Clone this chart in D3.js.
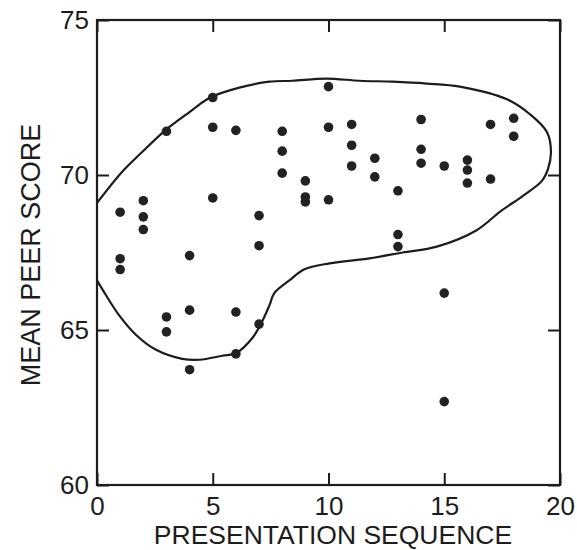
<!DOCTYPE html>
<html>
<head>
<meta charset="utf-8">
<script src="https://cdn.jsdelivr.net/npm/d3@7"></script>
<style>
  body { margin:0; background:#fff; }
  text { font-family: "Liberation Sans", Arial, sans-serif; fill:#1c1c1c; }
</style>
</head>
<body>
<div id="chart"></div>
<script>
// presentation order and mean peer scores
var seq = [1,1,1, 2,2,2, 3,3,3, 4,4,4, 5,5,5, 6,6,6, 7,7,7, 8,8,8, 9,9,9,
           10,10,10, 11,11,11, 12,12, 13,13,13, 14,14,14, 15,15,15, 16,16,16, 17,17, 18,18]
var score = [68.8,67.3,66.95, 69.17,68.65,68.24, 71.41,65.42,64.94, 67.40,65.64,63.72,
             72.5,71.54,69.26, 71.44,65.58,64.23, 68.69,67.72,65.19, 71.41,70.77,70.06,
             69.81,69.29,69.13, 72.85,71.54,69.2, 71.63,70.96,70.29, 70.54,69.94,
             69.49,68.08,67.69, 71.79,70.83,70.38, 70.29,66.19,62.69, 70.48,70.16,69.74,
             71.63,69.87, 71.83,71.25]

// hand drawn envelope round the cluster (data units)
var envX = [0,1.08,1.95,2.9,3.98,4.89,6.15,7.45,8.44,9.91,11.34,12.77,14.24,15.67,17.71,18.7,19.44,19.61,19.48,19.22,
            18.4,17.4,16.4,14.68,13.2,11.77,10.04,8.96,8.31,7.66,7.45,7.14,6.71,6.02,5.41,4.42,3.68,2.55,1.69,0.95,0.39,0]
var envY = [69.1,70.1,70.74,71.41,72.02,72.5,72.82,73.01,73.04,73.11,73.04,73.01,72.95,72.85,72.44,71.96,71.38,70.74,70.19,69.81,
            69.33,68.81,68.22,67.69,67.5,67.31,67.15,66.96,66.6,66.19,65.8,65.29,64.74,64.26,64.17,64.04,64.07,64.36,64.84,65.48,66.12,66.6]

var xTicks = [0,5,10,15,20]
var yTicks = [60,65,70,75]

var width = 577, height = 550

var svg = d3.select("#chart").append("svg")
    .attr("width", width)
    .attr("height", height)

var x = d3.scaleLinear().domain([0,20]).range([97,560])
var y = d3.scaleLinear().domain([60,75]).range([485,20])

// frame
svg.append("rect")
    .attr("x", x(0)).attr("y", y(75))
    .attr("width", x(20)-x(0)).attr("height", y(60)-y(75))
    .attr("fill", "none").attr("stroke", "#1c1c1c").attr("stroke-width", 2.2)

// axes with inward ticks
var ax = function(g){ g.select(".domain").remove(); g.selectAll(".tick line").attr("stroke","#1c1c1c").attr("stroke-width",2); g.selectAll(".tick text").attr("font-size",26).attr("fill","#1c1c1c").style("font-family","Liberation Sans, Arial, sans-serif") }

svg.append("g")
    .attr("transform", "translate(0," + y(60) + ")")
    .call(d3.axisBottom(x).tickValues(xTicks).tickSizeInner(-12).tickSizeOuter(0).tickPadding(12))
    .call(ax)

svg.append("g")
    .attr("transform", "translate(0," + y(75) + ")")
    .call(d3.axisTop(x).tickValues(xTicks).tickSizeInner(-12).tickSizeOuter(0).tickFormat(""))
    .call(ax)

svg.append("g")
    .attr("transform", "translate(" + x(0) + ",0)")
    .call(d3.axisLeft(y).tickValues(yTicks).tickSizeInner(-12).tickSizeOuter(0).tickPadding(8))
    .call(ax)

svg.append("g")
    .attr("transform", "translate(" + x(20) + ",0)")
    .call(d3.axisRight(y).tickValues(yTicks).tickSizeInner(-12).tickSizeOuter(0).tickFormat(""))
    .call(ax)

// envelope
var env = envX.map(function(d,i){ return [d, envY[i]] })
var line = d3.line()
    .x(function(d){ return x(d[0]) })
    .y(function(d){ return y(d[1]) })
    .curve(d3.curveCatmullRom)

svg.append("path")
    .attr("d", line(env))
    .attr("fill", "none")
    .attr("stroke", "#1c1c1c")
    .attr("stroke-width", 2.2)

// points
svg.append("g")
    .selectAll("circle")
    .data(seq)
    .enter().append("circle")
    .attr("cx", function(d){ return x(d) })
    .attr("cy", function(d,i){ return y(score[i]) })
    .attr("r", 4.8)
    .attr("fill", "#222")

// titles
svg.append("text")
    .attr("x", 333).attr("y", 544)
    .attr("text-anchor", "middle")
    .attr("font-size", 26.5)
    .text("PRESENTATION SEQUENCE")

svg.append("text")
    .attr("transform", "translate(40,255) rotate(-90)")
    .attr("text-anchor", "middle")
    .attr("font-size", 27)
    .text("MEAN PEER SCORE")
</script>
</body>
</html>
